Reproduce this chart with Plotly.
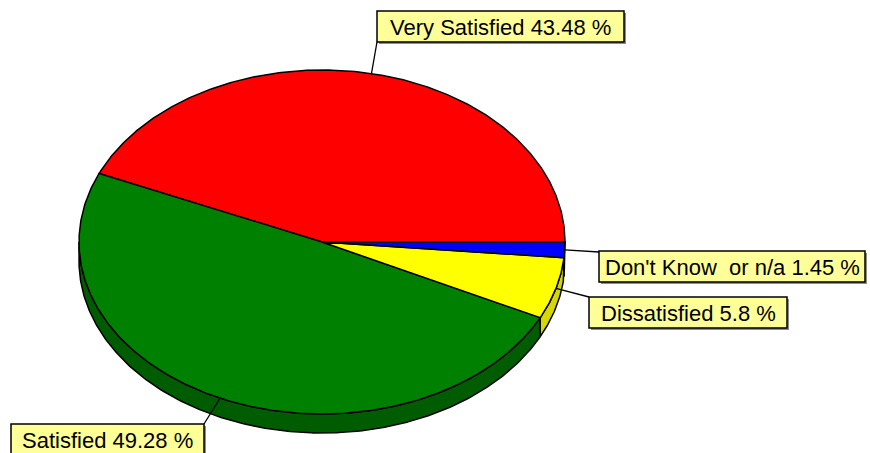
import numpy as np
import plotly.graph_objects as go

# Survey results
categories = ["Very Satisfied", "Satisfied", "Dissatisfied", "Don't Know\u00a0 or n/a"]
values = [43.48, 49.28, 5.8, 1.45]
top_colors = ["#FF0000", "#008000", "#FFFF00", "#0000FF"]
side_colors = ["#9A0000", "#005C00", "#D6D600", "#00007A"]

# Tilted pie geometry (pixel space)
CX, CY = 322.0, 242.0
RX, RY = 243.0, 172.0
DEPTH = 19.0


def ellipse_xy(deg, dy=0.0):
    t = np.radians(deg)
    return CX + RX * np.cos(t), CY - RY * np.sin(t) + dy


def arc(a0, a1, dy=0.0):
    n = max(int(abs(a1 - a0) * 2) + 2, 4)
    t = np.linspace(a0, a1, n)
    return ellipse_xy(t, dy)


total = sum(values)
bounds = np.concatenate([[0.0], np.cumsum(values) / total * 360.0])

fig = go.Figure()

# Side walls of the front half
for i in range(len(values)):
    lo, hi = max(bounds[i], 180.0), min(bounds[i + 1], 360.0)
    if hi <= lo:
        continue
    xt, yt = arc(lo, hi)
    xb, yb = arc(hi, lo, DEPTH)
    xs = np.concatenate([xt, xb, xt[:1]])
    ys = np.concatenate([yt, yb, yt[:1]])
    fig.add_trace(go.Scatter(x=xs, y=ys, mode="lines", fill="toself",
                             fillcolor=side_colors[i],
                             line=dict(color="black", width=1.5),
                             hoverinfo="skip"))

# Top faces
for i in range(len(values)):
    xa, ya = arc(bounds[i], bounds[i + 1])
    xs = np.concatenate([[CX], xa, [CX]])
    ys = np.concatenate([[CY], ya, [CY]])
    fig.add_trace(go.Scatter(x=xs, y=ys, mode="lines", fill="toself",
                             fillcolor=top_colors[i],
                             line=dict(color="black", width=1.5),
                             name=categories[i], hoverinfo="name"))

# Label boxes: (x0, y0, x1, y1) and the box point the leader line reaches
boxes = [
    ((377, 11, 624, 42), (377, 42)),
    ((11, 424, 204, 456), (204, 424)),
    ((589, 297, 787, 328), (589, 297)),
    ((599, 251, 865, 282), (599, 252)),
]

shapes = []
annotations = []
for i, ((x0, y0, x1, y1), (lx, ly)) in enumerate(boxes):
    mid = (bounds[i] + bounds[i + 1]) / 2.0
    px, py = ellipse_xy(mid)
    shapes.append(dict(type="line", xref="x", yref="y", x0=float(px), y0=float(py),
                       x1=lx, y1=ly, line=dict(color="black", width=1.3)))
    shapes.append(dict(type="rect", xref="x", yref="y", x0=x0 + 2, y0=y0 + 2,
                       x1=x1 + 2, y1=y1 + 2, fillcolor="#8C8C8C",
                       line=dict(width=0)))
    shapes.append(dict(type="rect", xref="x", yref="y", x0=x0, y0=y0, x1=x1, y1=y1,
                       fillcolor="#FFFF99", line=dict(color="black", width=1.5)))
    annotations.append(dict(x=(x0 + x1) / 2.0, y=(y0 + y1) / 2.0 + 0.5,
                            xref="x", yref="y", showarrow=False,
                            text=f"{categories[i]} {values[i]} %",
                            font=dict(family="Liberation Sans, Arial", size=22,
                                      color="black"),
                            xanchor="center", yanchor="middle"))

fig.update_layout(
    width=870, height=453,
    margin=dict(l=0, r=0, t=0, b=0),
    paper_bgcolor="white", plot_bgcolor="white",
    showlegend=False,
    xaxis=dict(range=[0, 870], visible=False, fixedrange=True),
    yaxis=dict(range=[453, 0], visible=False, fixedrange=True),
    shapes=shapes,
    annotations=annotations,
)

fig.write_html("out.html")
